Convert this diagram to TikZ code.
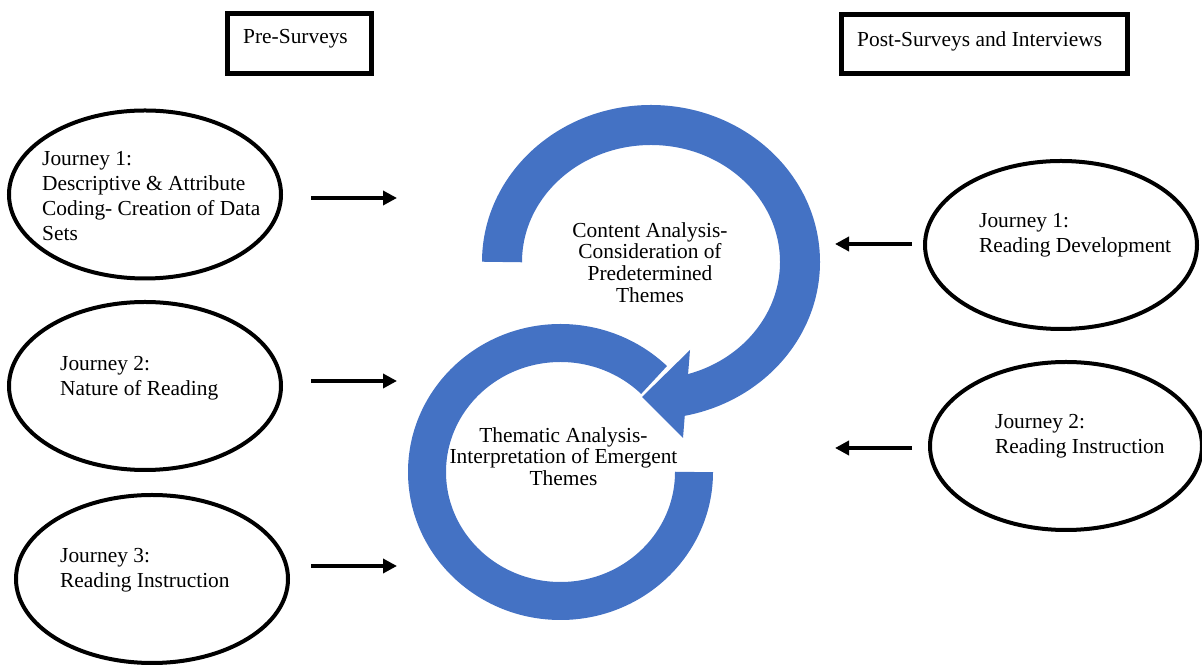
\documentclass[tikz,border=0pt]{standalone}
\usepackage{fontspec}
\setmainfont{Liberation Serif}
\usetikzlibrary{shapes.geometric,arrows.meta}
\definecolor{ringblue}{HTML}{4472C4}
\begin{document}
\begin{tikzpicture}[x=1pt,y=1pt,
  journey/.style={ellipse, draw=black, line width=4pt, minimum width=272pt, minimum height=168pt, inner sep=0pt},
  jtext/.style={anchor=north west, inner sep=0pt, align=left, font=\fontsize{21.4}{25}\selectfont},
  rtext/.style={anchor=north, inner sep=0pt, align=center, font=\fontsize{21.4}{21.7}\selectfont},
  phase/.style={draw=black, line width=5pt, inner sep=0pt, minimum height=59.5pt},
  ptext/.style={anchor=north west, inner sep=0pt, font=\fontsize{21.4}{25}\selectfont},
  flow/.style={line width=4pt, -{Triangle[length=14pt,width=14pt]}},
  ring/.style={draw=ringblue, line width=40pt}
]
\useasboundingbox (0,0) rectangle (1202,666);

% phase headings
\node[phase, minimum width=144pt] (pre) at (299.5,622.25) {};
\node[ptext] (pretext) at (243,637) {Pre-Surveys};
\node[phase, minimum width=286pt] (post) at (984.5,621.75) {};
\node[ptext] (posttext) at (857,635) {Post-Surveys and Interviews};

% pre-survey journeys
\node[journey] (pre1) at (145,471.5) {};
\node[jtext] (pre1text) at (42,515) {Journey 1:\\Descriptive \& Attribute\\Coding- Creation of Data\\Sets};
\node[journey] (pre2) at (145,280) {};
\node[jtext] (pre2text) at (60,310) {Journey 2:\\Nature of Reading};
\node[journey] (pre3) at (152,87) {};
\node[jtext] (pre3text) at (60,118) {Journey 3:\\Reading Instruction};

% post-survey journeys
\node[journey] (post1) at (1061,421) {};
\node[jtext] (post1text) at (979,453) {Journey 1:\\Reading Development};
\node[journey] (post2) at (1066,220) {};
\node[jtext] (post2text) at (995,252) {Journey 2:\\Reading Instruction};

% cycle of analysis
\draw[ring, line width=38pt] (694,194) arc[start angle=0, end angle=-314.5, x radius=133.5, y radius=129];
\draw[ring] (502,404) arc[start angle=180, end angle=-80, x radius=149, y radius=137];
\fill[ringblue] (642,269) -- (690,316) -- (683,228) -- cycle;

\node[rtext] (content) at (650,444) {Content Analysis-\\Consideration of\\Predetermined\\Themes};
\node[rtext] (thematic) at (563.5,239) {Thematic Analysis-\\Interpretation of Emergent\\Themes};

% arrows into the cycle
\coordinate (l1s) at (311,468); \coordinate (l1e) at (397,468);
\coordinate (l2s) at (311,285); \coordinate (l2e) at (397,285);
\coordinate (l3s) at (311,100); \coordinate (l3e) at (397,100);
\coordinate (r1s) at (912,422); \coordinate (r1e) at (835,422);
\coordinate (r2s) at (912,218); \coordinate (r2e) at (835,218);
\draw[flow] (l1s) -- (l1e);
\draw[flow] (l2s) -- (l2e);
\draw[flow] (l3s) -- (l3e);
\draw[flow] (r1s) -- (r1e);
\draw[flow] (r2s) -- (r2e);
\end{tikzpicture}
\end{document}
